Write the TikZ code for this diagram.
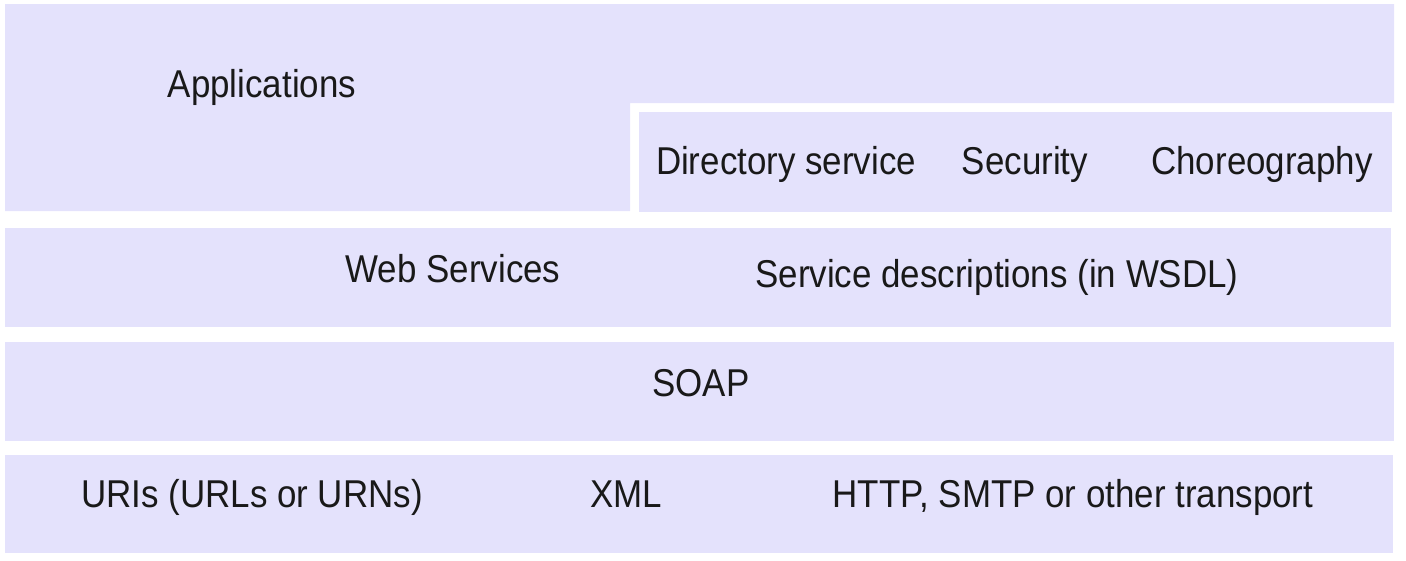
\documentclass[tikz,border=0pt]{standalone}
\usepackage{fontspec}
\setmainfont{Liberation Sans}[FakeStretch=0.9]
\definecolor{layer}{RGB}{228,226,252}
\begin{document}
\begin{tikzpicture}[x=1pt,y=-1pt,
  layerbox/.style={fill=layer,draw=none},
  lbl/.style={anchor=base,inner sep=0pt,font=\fontsize{38.8}{44}\selectfont,text=black!90}]
\useasboundingbox (0,0) rectangle (1406,560);
% Applications (L-shape)
\fill[layerbox] (5,4) -- (1394,4) -- (1394,103) -- (630,103) -- (630,211) -- (5,211) -- cycle;
% middleware services
\fill[layerbox] (639,112) rectangle (1392,212);
% Web services
\fill[layerbox] (5,228) rectangle (1391,327);
% SOAP
\fill[layerbox] (5,342) rectangle (1394,441);
% base
\fill[layerbox] (5,455) rectangle (1393,553);

\node[lbl] (app) at (262,97.5) {Applications};
\node[lbl] (dir) at (786,174) {Directory service};
\node[lbl] (sec) at (1025,174) {Security};
\node[lbl] (cho) at (1262,174) {Choreography};
\node[lbl] (ws) at (453,282.5) {Web Services};
\node[lbl] (sd) at (997,287.5) {Service descriptions (in WSDL)};
\node[lbl] (soap) at (701,396) {SOAP};
\node[lbl] (uri) at (252,507) {URIs (URLs or URNs)};
\node[lbl] (xml) at (626,507) {XML};
\node[lbl] (http) at (1073,507) {HTTP, SMTP or other transport};
\end{tikzpicture}
\end{document}
